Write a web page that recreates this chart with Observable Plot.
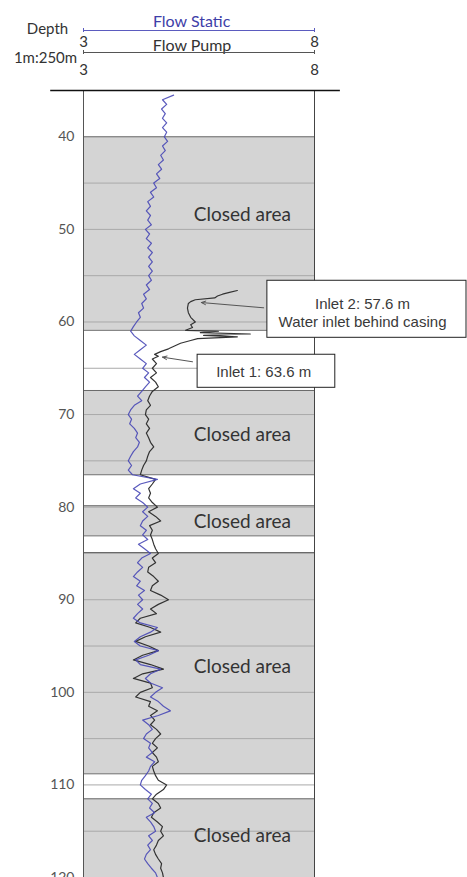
<!DOCTYPE html>
<html>
<head>
<meta charset="utf-8">
<script src="https://cdn.jsdelivr.net/npm/d3@7"></script>
<script src="https://cdn.jsdelivr.net/npm/@observablehq/plot@0.6"></script>
<style>
  html, body { margin: 0; padding: 0; background: #fff; }
  #chart { width: 467px; height: 877px; overflow: hidden; }
</style>
</head>
<body>
<div id="chart"></div>
<script>
// ---------------- DATA ----------------
const depthTicks = [40, 50, 60, 70, 80, 90, 100, 110, 120];
const gridDepths = [45, 50, 55, 60, 65, 70, 75, 80, 85, 90, 95, 100, 105, 110, 115];

// closed (grey) intervals
const closedTop    = [40, 67.4, 79.85, 84.9, 111.5];
const closedBottom = [60.9, 76.5, 83.1, 108.8, 120];
const closedLabelDepth = [48.4, 72.2, 81.6, 97.3, 115.5];

// Flow Static (blue)
const staticDepth = [35.5,36,36.5,37,37.5,38,38.5,39,39.5,40,40.5,41,41.5,42,42.5,43,43.5,44,44.5,45,45.5,46,46.5,47,47.5,48,48.5,49,49.5,50,
  50.5,51,51.5,52,52.5,53,53.5,54,54.5,55,55.5,56,56.5,57,57.5,58,58.5,59,59.5,60,60.5,61,61.5,62,62.5,63,63.5,64,64.5,65,
  65.5,66,66.5,67,67.5,68,68.5,69,69.5,70,70.5,71,71.5,72,72.5,73,73.5,74,74.5,75,75.5,76,76.5,77,77.5,78,78.5,79,79.5,80,
  80.5,81,81.5,82,82.5,83,83.5,84,84.5,85,85.5,86,86.5,87,87.5,88,88.5,89,89.5,90,90.5,91,91.5,92,92.5,93,93.5,94,94.5,95,
  95.5,96,96.5,97,97.5,98,98.5,99,99.5,100,100.5,101,101.5,102,102.5,103,103.5,104,104.5,105,105.5,106,106.5,107,107.5,108,108.5,109,109.5,110,
  110.5,111,111.5,112,112.5,113,113.5,114,114.5,115,115.5,116,116.5,117,117.5,118,118.5,119,119.5,120];
const staticFlow = [4.95,4.71,4.80,4.69,4.77,4.71,4.80,4.71,4.80,4.75,4.82,4.71,4.77,4.67,4.73,4.62,4.69,4.58,4.65,4.52,4.58,4.45,4.52,4.39,4.45,4.36,4.45,4.39,4.47,4.34,
  4.43,4.36,4.47,4.39,4.49,4.41,4.49,4.41,4.49,4.41,4.47,4.36,4.43,4.30,4.36,4.26,4.30,4.19,4.23,4.15,4.08,4.02,4.10,4.23,4.36,4.23,4.10,4.23,4.36,4.28,
  4.41,4.32,4.43,4.34,4.26,4.17,4.26,4.10,4.02,3.97,4.04,4.00,4.10,4.17,4.13,4.21,4.17,4.08,4.02,3.97,4.04,3.97,4.06,4.60,4.23,4.08,4.23,4.13,4.28,4.39,
  4.28,4.39,4.28,4.23,4.36,4.28,4.39,4.19,4.32,4.45,4.26,4.17,4.28,4.17,4.08,4.23,4.15,4.32,4.19,4.28,4.17,4.28,4.17,4.08,4.23,4.60,4.45,4.23,4.10,4.23,
  4.62,4.41,4.13,4.23,4.67,4.45,4.34,4.45,4.71,4.56,4.45,4.62,4.73,4.88,4.62,4.28,4.41,4.49,4.36,4.30,4.45,4.41,4.49,4.36,4.54,4.45,4.41,4.34,4.26,4.23,
  4.34,4.47,4.39,4.49,4.43,4.54,4.36,4.45,4.52,4.56,4.41,4.49,4.39,4.45,4.36,4.32,4.39,4.47,4.56,4.60];

// Flow Pump (black)
const pumpDepth = [56.6,56.8,57,57.2,57.4,57.6,57.8,58,58.5,59,59.5,60,60.3,60.6,60.9,61,61.15,61.3,61.45,61.6,61.8,62,62.3,62.6,62.9,63.2,63.5,63.7,64,64.5,
  65,65.5,66,66.5,67,67.5,68,68.5,69,69.5,70,70.5,71,71.5,72,72.5,73,73.5,74,74.5,75,75.5,76,76.5,77,77.5,78,78.5,79,79.5,
  80,80.5,81,81.5,82,82.5,83,83.5,84,84.5,85,85.5,86,86.5,87,87.5,88,88.5,89,89.5,90,90.5,91,91.5,92,92.5,93,93.5,94,94.5,
  95,95.5,96,96.5,97,97.5,98,98.5,99,99.5,100,100.5,101,101.5,102,102.5,103,103.5,104,104.5,105,105.5,106,106.5,107,107.5,108,108.5,109,109.5,
  110,110.5,111,111.5,112,112.5,113,113.5,114,114.5,115,115.5,116,116.5,117,117.5,118,118.5,119,119.5,120];
const pumpFlow = [6.33,6.16,6.01,5.90,5.84,5.42,5.32,5.27,5.25,5.27,5.32,5.42,5.32,5.36,5.21,5.92,5.53,6.61,5.60,6.33,5.47,5.32,5.10,4.97,4.84,4.67,4.54,4.62,4.49,4.58,
  4.49,4.58,4.45,4.56,4.62,4.49,4.43,4.39,4.45,4.36,4.34,4.41,4.36,4.43,4.36,4.41,4.45,4.52,4.43,4.39,4.36,4.30,4.26,4.23,4.56,4.49,4.41,4.45,4.41,4.49,
  4.60,4.41,4.56,4.67,4.43,4.49,4.45,4.49,4.52,4.56,4.62,4.49,4.56,4.41,4.39,4.52,4.62,4.49,4.45,4.67,4.84,4.62,4.45,4.58,4.23,4.13,4.45,4.67,4.34,4.13,
  4.41,4.62,4.28,4.08,4.45,4.73,4.28,4.08,4.45,4.49,4.23,4.13,4.45,4.41,4.60,4.45,4.54,4.45,4.58,4.67,4.56,4.49,4.60,4.49,4.58,4.62,4.49,4.52,4.56,4.62,
  4.80,4.73,4.58,4.49,4.62,4.67,4.52,4.47,4.60,4.71,4.67,4.73,4.62,4.58,4.52,4.56,4.62,4.69,4.67,4.71,4.73];

// Inlet annotations
const inletLabel = ["Inlet 2: 57.6 m\nWater inlet behind casing", "Inlet 1: 63.6 m"];
const inletDepth = [57.9, 63.8];     // arrow tip depth
const inletFlow  = [5.55, 4.71];     // arrow tip flow

// ---------------- LAYOUT (not data) ----------------
const layout = {
  boxX1: [6.98, 5.47], boxX2: [11.29, 8.45],
  boxY1: [55.55, 63.54], boxY2: [61.71, 67.11],
  textX: [9.04, 6.90], textY: [58.9, 65.35],
  arrowX: [6.90, 5.36], arrowY: [58.47, 64.3]
};

const BLUE = "#4848b6";
const PUMP = "#333333";

const closed = closedTop.map((t, i) => ({top: t, bottom: closedBottom[i]}));
const boundaries = [...closedTop, ...closedBottom].filter(d => d < 120);
const staticData = staticDepth.map((d, i) => ({depth: d, flow: staticFlow[i]}));
const pumpData = pumpDepth.map((d, i) => ({depth: d, flow: pumpFlow[i]}));
const inlets = inletLabel.map((l, i) => ({
  label: l, depth: inletDepth[i], flow: inletFlow[i],
  bx1: layout.boxX1[i], bx2: layout.boxX2[i], by1: layout.boxY1[i], by2: layout.boxY2[i],
  tx: layout.textX[i], ty: layout.textY[i], ax: layout.arrowX[i], ay: layout.arrowY[i]
}));

const hdr = {lineAnchor: "middle", textAnchor: "middle"};

const chart = Plot.plot({
  width: 467,
  height: 877,
  marginLeft: 83,
  marginRight: 153,
  marginTop: 90,
  marginBottom: 0,
  style: {fontFamily: "Lato, 'Open Sans', sans-serif", fontSize: "14px", color: "#555", background: "#fff", overflow: "visible"},
  x: {domain: [3, 8], axis: null},
  y: {domain: [35, 120], reverse: true, ticks: depthTicks, tickSize: 0, tickPadding: 9, label: null},
  marks: [
    // closed areas
    Plot.rect(closed, {x1: 3, x2: 8, y1: "top", y2: "bottom", fill: "#d4d4d4"}),
    // grid
    Plot.ruleY(gridDepths, {x1: 3, x2: 8, stroke: "#a9a9a9", strokeWidth: 1}),
    Plot.ruleY(boundaries, {x1: 3, x2: 8, stroke: "#6a6a6a", strokeWidth: 1}),
    // track borders
    Plot.ruleX([3], {stroke: "#555", strokeWidth: 1}),
    Plot.ruleX([8], {stroke: "#444", strokeWidth: 1}),
    Plot.ruleY([35], {x1: 2.29, x2: 8.56, stroke: "#111", strokeWidth: 1.5}),
    // curves
    Plot.line(pumpData, {x: "flow", y: "depth", stroke: PUMP, strokeWidth: 1.2}),
    Plot.line(staticData, {x: "flow", y: "depth", stroke: BLUE, strokeWidth: 1.2, strokeOpacity: 0.9}),
    // closed area labels
    Plot.text(closedLabelDepth, {x: 6.44, y: d => d, text: () => "Closed area", fontSize: 19, fill: "#333", fontFamily: "Lato, sans-serif"}),
    // inlet annotations
    Plot.rect(inlets, {x1: "bx1", x2: "bx2", y1: "by1", y2: "by2", fill: "#fff", stroke: "#222", strokeWidth: 1}),
    Plot.arrow(inlets, {x1: "ax", y1: "ay", x2: "flow", y2: "depth", stroke: "#555", strokeWidth: 1, headLength: 7, headAngle: 45}),
    Plot.text(inlets, {x: "tx", y: "ty", text: "label", fontSize: 15, lineHeight: 1.2, fill: "#3a3a3a", fontFamily: "'Liberation Sans', Arial, sans-serif"}),
    // header
    Plot.text(["Depth"], {...hdr, frameAnchor: "top-left", dx: -36, dy: -61, fontSize: 15, fill: "#333"}),
    Plot.text(["1m:250m"], {...hdr, frameAnchor: "top-left", dx: -38, dy: -32, fontSize: 15, fill: "#333"}),
    Plot.text(["Flow Static"], {...hdr, x: 5.34, frameAnchor: "top", dy: -69, fontSize: 16, fill: "#3e3ea8"}),
    Plot.ruleY([35], {x1: 3, x2: 8, dy: -60, stroke: "#5b5bbf", strokeWidth: 1.2}),
    Plot.ruleX([3, 8], {y1: 35, y2: 35, dy: -60, insetTop: -2, insetBottom: -2, stroke: "#5b5bbf"}),
    Plot.text(["3", "8"], {...hdr, x: d => +d, frameAnchor: "top", dy: -48, fontSize: 15, fill: "#333"}),
    Plot.text(["Flow Pump"], {...hdr, x: 5.35, frameAnchor: "top", dy: -45, fontSize: 16, fill: "#333"}),
    Plot.ruleY([35], {x1: 3, x2: 8, dy: -38, stroke: "#555", strokeWidth: 1.2}),
    Plot.ruleX([3, 8], {y1: 35, y2: 35, dy: -38, insetTop: -2, insetBottom: -2, stroke: "#555"}),
    Plot.text(["3", "8"], {...hdr, x: d => +d, frameAnchor: "top", dy: -20, fontSize: 15, fill: "#333"})
  ]
});
document.getElementById("chart").append(chart);
</script>
</body>
</html>
